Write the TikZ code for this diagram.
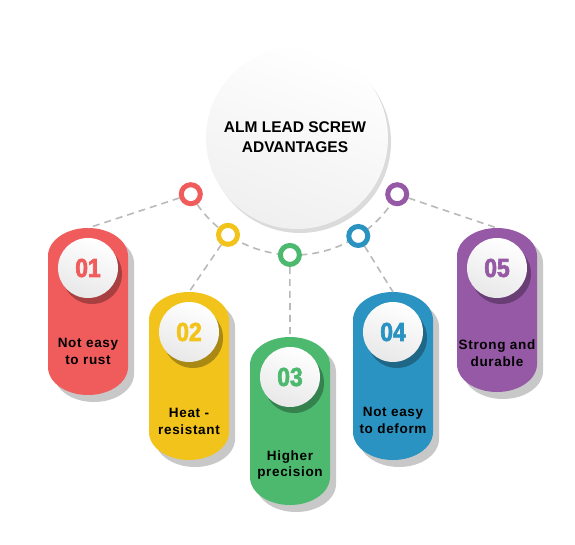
\documentclass[tikz,border=0pt]{standalone}
\usepackage{fontspec}
\setmainfont{Liberation Sans}
\newfontfamily\numfont[UprightFont={* Bold}, FakeStretch=0.88, FakeBold=2.5]{Liberation Sans}
\newfontfamily\labfont[UprightFont={* Bold}, LetterSpace=5]{Liberation Sans}
\usetikzlibrary{calc}
\definecolor{cred}{HTML}{F05B5C}
\definecolor{cyellow}{HTML}{F1C31B}
\definecolor{cgreen}{HTML}{4CB96F}
\definecolor{cblue}{HTML}{2B93C1}
\definecolor{cpurple}{HTML}{9559A5}
\definecolor{shade1}{HTML}{C8C8C8}
\tikzset{
  connector/.style={draw=gray!55, line width=1.6pt, dash pattern=on 7pt off 5pt},
  ringnode/.style={circle, draw=#1, line width=5pt, fill=white, minimum size=19pt, inner sep=0pt},
  numtext/.style={font=\numfont\fontsize{26}{26}\selectfont, text=#1},
  labeltext/.style={font=\labfont\fontsize{13.5}{17}\selectfont, align=center, text=black},
  titletext/.style={font=\bfseries\fontsize{15.5}{20}\selectfont, align=center, text=black},
  ballfill/.style={shading=axis, top color=white, bottom color=gray!18, shading angle=-20},
}
\newcommand{\drawpill}[5]{% cx, top, bottom, color, name
  \fill[shade1] (#1-40+6, #2+28+7) arc[start angle=180, end angle=360, x radius=40, y radius=28]
    -- (#1+40+6, #3-28+7) arc[start angle=0, end angle=180, x radius=40, y radius=28] -- cycle;
  \fill[#4] (#1-40, #2+28) arc[start angle=180, end angle=360, x radius=40, y radius=28]
    -- (#1+40, #3-28) arc[start angle=0, end angle=180, x radius=40, y radius=28] -- cycle;
  \coordinate (#5) at (#1, #2);
  \fill[#4!70!black] (#1+4, #2+40+6) circle[radius=30];
  \shade[ballfill] (#1, #2+40) circle[radius=30];
}
\begin{document}
\begin{tikzpicture}[x=1pt, y=-1pt]
\useasboundingbox (0,0) rectangle (575,544);
\coordinate (c) at (294,137);
% dashed arc
\draw[connector] ($(c)+(151:118)$) arc[start angle=151, end angle=29, radius=118];
% main circle
\fill[gray!28] (300,142) circle[radius=91];
\shade[shading=axis, top color=white, bottom color=gray!12, shading angle=-20] (297,138) circle[radius=91];
\node[titletext] (title) at (295,137) {ALM LEAD SCREW\\ADVANTAGES};
% pills
\drawpill{88}{228}{395}{cred}{p1}
\drawpill{189}{292}{460}{cyellow}{p2}
\drawpill{290}{337}{505}{cgreen}{p3}
\drawpill{393}{292}{460}{cblue}{p4}
\drawpill{497}{228}{392}{cpurple}{p5}
\node[numtext=cred] (n1) at (88,268) {01};
\node[numtext=cyellow] (n2) at (189,332) {02};
\node[numtext=cgreen] (n3) at (290,377) {03};
\node[numtext=cblue] (n4) at (393,332) {04};
\node[numtext=cpurple] (n5) at (497,268) {05};
\node[labeltext] (t1) at (88,351) {Not easy\\to rust};
\node[labeltext] (t2) at (189,421) {Heat -\\resistant};
\node[labeltext] (t3) at (290,465) {Higher\\precision};
\node[labeltext] (t4) at (393,420) {Not easy\\to deform};
\node[labeltext] (t5) at (497,353) {Strong and\\durable};
% rings
\coordinate (a1) at ($(c)+(151:118)$);
\coordinate (a2) at ($(c)+(124:118)$);
\coordinate (a3) at ($(c)+(92:118)$);
\coordinate (a4) at ($(c)+(57:118)$);
\coordinate (a5) at ($(c)+(29:118)$);
\draw[connector] (a1) -- (p1);
\draw[connector] (a2) -- (p2);
\draw[connector] (a3) -- (p3);
\draw[connector] (a4) -- (p4);
\draw[connector] (a5) -- (p5);
\node[ringnode=cred] (r1) at (a1) {};
\node[ringnode=cyellow] (r2) at (a2) {};
\node[ringnode=cgreen] (r3) at (a3) {};
\node[ringnode=cblue] (r4) at (a4) {};
\node[ringnode=cpurple] (r5) at (a5) {};
\end{tikzpicture}
\end{document}
